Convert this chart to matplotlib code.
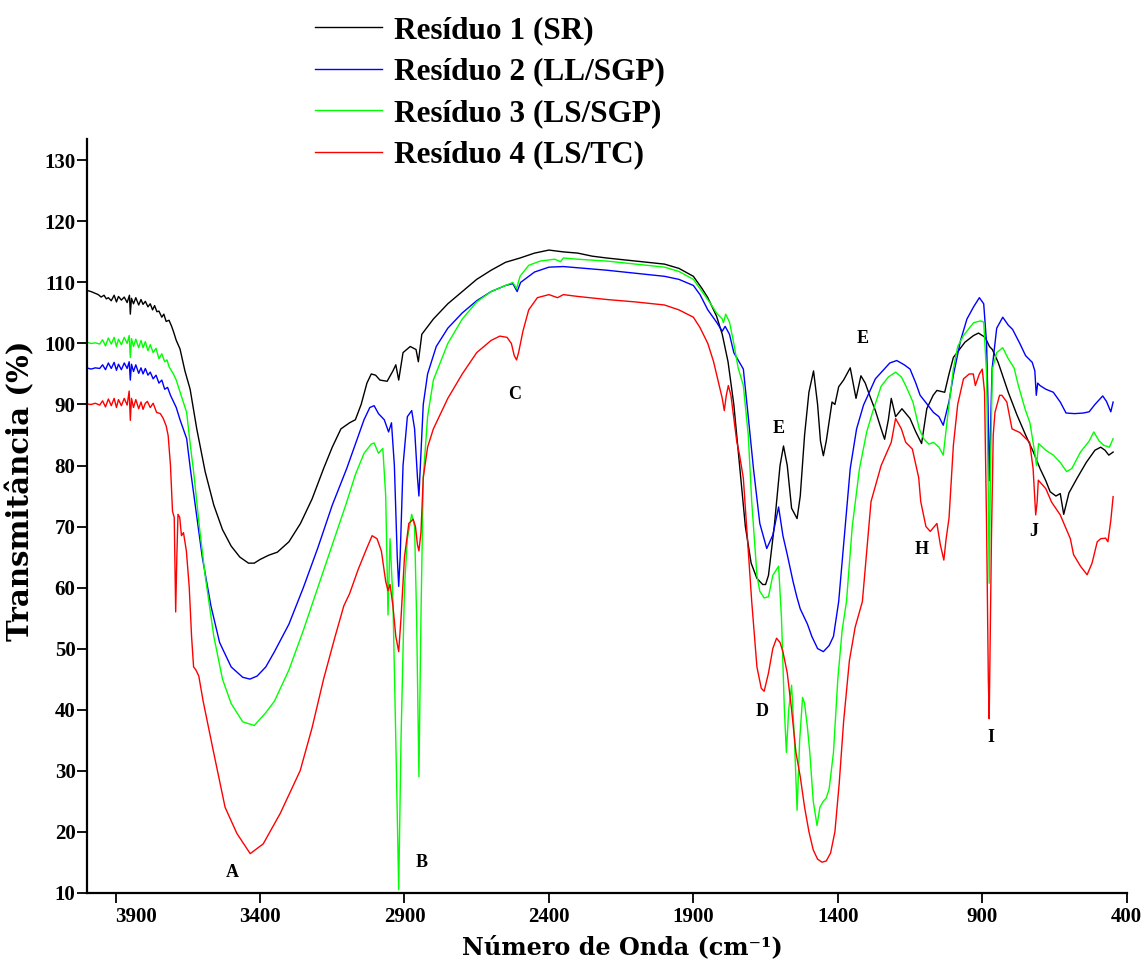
import numpy as np
import matplotlib
matplotlib.use("Agg")
import matplotlib.pyplot as plt

# ---------------- data ----------------
labels = ["Resíduo 1 (SR)", "Resíduo 2 (LL/SGP)", "Resíduo 3 (LS/SGP)", "Resíduo 4 (LS/TC)"]
colors = ["#000000", "#0000ff", "#00ff00", "#ff0000"]

wn_black = [4000, 3985, 3970, 3960, 3950, 3940, 3932, 3925, 3915, 3905, 3897, 3890, 3880, 3870, 3860, 3852, 3849, 3845,
            3838, 3830, 3820, 3812, 3805, 3797, 3788, 3780, 3772, 3765, 3757, 3750, 3740, 3733, 3725, 3715, 3706, 3700,
            3690, 3677, 3660, 3642, 3619, 3590, 3560, 3530, 3500, 3470, 3440, 3420, 3400, 3370, 3340, 3300, 3260, 3220,
            3180, 3150, 3120, 3090, 3070, 3050, 3030, 3015, 3000, 2985, 2960, 2940, 2930, 2920, 2905, 2880, 2860, 2852,
            2840, 2800, 2750, 2700, 2650, 2600, 2550, 2500, 2450, 2400, 2350, 2300, 2250, 2200, 2100, 2000, 1950, 1900,
            1870, 1850, 1820, 1800, 1780, 1760, 1740, 1720, 1700, 1680, 1660, 1650, 1640, 1620, 1600, 1588, 1575, 1560,
            1541, 1530, 1515, 1500, 1484, 1470, 1460, 1450, 1440, 1420, 1410, 1397, 1380, 1357, 1337, 1320, 1305, 1290,
            1270, 1250, 1238, 1225, 1215, 1200, 1178, 1150, 1130, 1110, 1092, 1070, 1057, 1030, 1015, 1000, 960, 930,
            913, 890, 875, 865, 845, 810, 780, 750, 723, 700, 680, 665, 645, 630, 618, 600, 572, 540, 510, 490, 475,
            462, 447]
tr_black = [108.7, 108.5, 108.2, 108.0, 107.6, 107.9, 107.3, 107.5, 107.0, 107.9, 106.8, 107.7, 107.1, 107.6, 106.7,
            107.9, 104.8, 107.4, 106.5, 107.5, 106.3, 107.2, 106.4, 106.9, 106.0, 106.5, 105.5, 106.2, 105.2, 105.3,
            104.3, 104.8, 103.6, 103.8, 102.8, 102.0, 100.5, 99.1, 95.5, 92.5, 86.0, 79.0, 73.5, 69.5, 66.8, 65.0, 64.0,
            64.0, 64.6, 65.3, 65.8, 67.5, 70.5, 74.5, 79.5, 83.0, 86.0, 87.0, 87.5, 90.0, 93.5, 95.0, 94.8, 94.0, 93.8,
            95.5, 96.5, 94.0, 98.5, 99.5, 99.0, 97.0, 101.5, 104.0, 106.5, 108.5, 110.5, 112.0, 113.3, 114.0, 114.8,
            115.3, 115.0, 114.8, 114.3, 114.0, 113.5, 113.0, 112.3, 111.0, 109.0, 107.5, 104.5, 101.5, 97.0, 90.0, 80.0,
            70.0, 64.0, 61.5, 60.5, 60.5, 62.0, 70.0, 80.0, 83.2, 80.0, 73.0, 71.3, 75.0, 85.0, 92.0, 95.5, 90.0, 84.0,
            81.6, 84.0, 90.4, 90.0, 92.9, 94.0, 96.0, 91.0, 94.7, 93.5, 91.5, 89.0, 86.0, 84.3, 87.5, 91.0, 88.0, 89.3,
            87.7, 85.5, 83.6, 89.3, 91.5, 92.3, 92.0, 95.0, 97.7, 100.2, 101.3, 101.7, 101.0, 99.5, 99.0, 96.9, 92.0,
            88.3, 85.0, 82.2, 79.5, 77.5, 75.7, 75.0, 75.4, 72.0, 75.5, 77.9, 80.5, 82.5, 83.0, 82.5, 81.7, 82.2]

wn_blue = [4000, 3985, 3970, 3955, 3945, 3935, 3925, 3915, 3905, 3897, 3890, 3880, 3870, 3860, 3853, 3849, 3845, 3838,
           3830, 3820, 3812, 3805, 3797, 3788, 3780, 3770, 3760, 3750, 3740, 3730, 3720, 3710, 3700, 3690, 3677, 3654,
           3640, 3620, 3600, 3570, 3540, 3500, 3460, 3435, 3410, 3380, 3350, 3300, 3250, 3200, 3150, 3100, 3070, 3040,
           3020, 3005, 2990, 2970, 2955, 2945, 2935, 2925, 2920, 2915, 2905, 2890, 2875, 2865, 2855, 2850, 2845, 2835,
           2820, 2790, 2750, 2700, 2650, 2600, 2550, 2525, 2510, 2498, 2450, 2400, 2350, 2300, 2200, 2100, 2000, 1950,
           1900, 1877, 1850, 1820, 1800, 1790, 1775, 1760, 1727, 1710, 1692, 1670, 1646, 1625, 1605, 1590, 1575, 1555,
           1542, 1530, 1520, 1505, 1490, 1470, 1450, 1430, 1415, 1397, 1380, 1357, 1335, 1311, 1270, 1220, 1196, 1170,
           1150, 1130, 1115, 1090, 1069, 1050, 1035, 1015, 1000, 975, 953, 930, 910, 895, 885, 880, 876, 872, 866, 850,
           829, 810, 795, 770, 750, 727, 718, 713, 708, 700, 680, 654, 630, 610, 580, 550, 530, 510, 483, 470, 455, 447]
tr_blue = [96.0, 95.8, 96.0, 95.9, 96.5, 95.7, 96.8, 95.9, 96.9, 95.6, 96.6, 95.7, 96.8, 95.9, 97.0, 94.0, 96.6, 95.4,
           96.5, 95.1, 96.0, 95.0, 95.9, 94.8, 95.3, 94.2, 94.8, 93.5, 94.0, 92.5, 92.8, 91.5, 90.5, 89.5, 87.5, 84.4,
           79.0, 72.0, 65.0, 57.0, 51.0, 47.0, 45.3, 45.0, 45.5, 47.0, 49.5, 54.0, 60.0, 66.5, 73.5, 79.5, 83.5, 87.5,
           89.5, 89.8, 88.5, 87.5, 85.5, 87.0, 80.0, 65.0, 60.2, 65.0, 80.0, 88.0, 89.0, 86.0, 78.0, 75.0, 80.0, 90.0,
           95.0, 99.5, 102.5, 105.0, 107.0, 108.5, 109.5, 109.8, 108.5, 110.0, 111.7, 112.5, 112.6, 112.4, 112.0,
           111.5, 111.0, 110.5, 109.5, 108.0, 105.5, 103.5, 102.0, 102.8, 101.5, 98.5, 95.8, 88.0, 79.5, 70.5, 66.4,
           68.6, 73.2, 68.5, 65.4, 61.0, 58.5, 56.5, 55.5, 54.0, 52.0, 50.0, 49.5, 50.5, 52.0, 57.7, 67.0, 79.5, 86.0,
           89.9, 94.2, 96.8, 97.2, 96.5, 95.8, 93.5, 91.5, 90.0, 88.7, 88.0, 86.6, 90.5, 94.8, 100.5, 104.0, 106.0,
           107.5, 106.5, 100.0, 90.0, 77.5, 85.0, 95.8, 102.5, 104.3, 103.0, 102.3, 100.0, 98.0, 96.9, 95.5, 91.5,
           93.5, 93.1, 92.5, 92.0, 90.4, 88.6, 88.5, 88.6, 88.8, 90.0, 91.4, 90.5, 88.8, 90.4]

wn_green = [4000, 3985, 3970, 3955, 3945, 3935, 3925, 3915, 3905, 3897, 3890, 3880, 3870, 3860, 3853, 3849, 3845, 3838,
            3830, 3820, 3812, 3805, 3797, 3788, 3780, 3770, 3760, 3750, 3740, 3730, 3722, 3715, 3700, 3690, 3680, 3654,
            3640, 3630, 3610, 3590, 3560, 3530, 3500, 3460, 3420, 3380, 3350, 3300, 3250, 3200, 3150, 3100, 3070, 3040,
            3015, 3005, 2990, 2975, 2965, 2957, 2950, 2940, 2930, 2920, 2912, 2900, 2890, 2875, 2865, 2858, 2850, 2843,
            2835, 2820, 2800, 2750, 2700, 2650, 2600, 2550, 2525, 2512, 2500, 2470, 2430, 2380, 2360, 2350, 2300, 2200,
            2100, 2000, 1950, 1900, 1870, 1840, 1820, 1800, 1796, 1788, 1775, 1760, 1745, 1727, 1710, 1698, 1680, 1670,
            1655, 1640, 1625, 1605, 1595, 1585, 1578, 1570, 1560, 1550, 1541, 1532, 1522, 1515, 1505, 1497, 1485, 1472,
            1462, 1450, 1440, 1430, 1415, 1400, 1385, 1370, 1350, 1325, 1300, 1280, 1250, 1225, 1200, 1180, 1165, 1140,
            1118, 1103, 1085, 1069, 1050, 1035, 1020, 1000, 985, 965, 930, 905, 895, 885, 879, 876, 872, 865, 850, 829,
            810, 790, 775, 752, 735, 718, 712, 705, 680, 654, 630, 608, 590, 560, 530, 514, 495, 479, 460, 447]
tr_green = [100.2, 100.0, 100.1, 99.9, 100.6, 99.6, 100.9, 99.9, 101.0, 99.5, 100.7, 99.8, 101.0, 100.0, 101.3, 97.7,
            100.8, 99.5, 100.7, 99.3, 100.5, 99.3, 100.3, 98.8, 99.8, 98.5, 99.2, 97.5, 98.3, 97.0, 97.3, 96.2, 95.0,
            94.0, 92.5, 88.7, 82.8, 79.0, 70.0, 62.0, 52.0, 45.0, 41.0, 38.0, 37.4, 39.5, 41.4, 46.5, 53.0, 60.0, 67.0,
            74.0, 78.5, 82.0, 83.5, 83.7, 82.0, 82.8, 75.0, 55.5, 68.0, 58.0, 35.0, 10.5, 35.0, 60.0, 68.0, 72.0, 70.0,
            55.0, 29.0, 55.0, 78.0, 88.0, 94.0, 100.0, 104.0, 106.8, 108.5, 109.5, 110.0, 109.0, 111.0, 112.8, 113.5,
            113.8, 113.4, 114.0, 113.8, 113.5, 113.0, 112.5, 111.8, 110.5, 108.5, 106.5, 105.0, 104.0, 103.4, 104.8,
            103.5, 100.0, 96.0, 93.1, 85.0, 74.1, 62.0, 59.4, 58.3, 58.5, 62.0, 63.5, 55.0, 40.0, 33.0, 40.0, 44.0,
            35.0, 23.5, 35.0, 42.0, 41.0, 37.0, 33.0, 25.0, 21.0, 24.0, 25.0, 25.5, 27.0, 33.0, 45.0, 53.0, 57.7, 70.0,
            79.5, 85.5, 88.7, 93.0, 94.5, 95.3, 94.5, 93.1, 90.4, 86.0, 84.4, 83.5, 83.8, 83.0, 81.7, 88.0, 95.8, 99.5,
            101.3, 103.4, 103.7, 103.5, 95.0, 75.0, 60.7, 78.0, 95.8, 98.5, 99.3, 97.5, 96.0, 93.1, 89.3, 87.0, 82.0,
            80.0, 83.6, 82.5, 81.7, 80.5, 79.0, 79.5, 82.2, 84.0, 85.5, 84.0, 83.3, 83.0, 84.4]

wn_red = [4000, 3985, 3970, 3955, 3945, 3935, 3925, 3915, 3905, 3897, 3890, 3880, 3870, 3860, 3853, 3849, 3845, 3838,
          3830, 3820, 3812, 3805, 3797, 3790, 3780, 3770, 3758, 3745, 3735, 3725, 3718, 3710, 3703, 3697, 3692, 3688,
          3684, 3678, 3672, 3665, 3655, 3645, 3637, 3630, 3622, 3612, 3597, 3562, 3521, 3480, 3434, 3389, 3330, 3261,
          3220, 3180, 3140, 3110, 3090, 3060, 3030, 3012, 2995, 2980, 2965, 2957, 2950, 2940, 2930, 2920, 2912, 2900,
          2885, 2870, 2862, 2855, 2850, 2843, 2835, 2820, 2800, 2750, 2700, 2650, 2600, 2570, 2545, 2530, 2520, 2512,
          2505, 2490, 2470, 2440, 2400, 2370, 2350, 2300, 2200, 2100, 2000, 1950, 1900, 1877, 1850, 1830, 1810, 1800,
          1793, 1786, 1779, 1770, 1750, 1740, 1727, 1710, 1698, 1680, 1665, 1655, 1640, 1625, 1612, 1600, 1590, 1575,
          1560, 1545, 1530, 1515, 1500, 1485, 1470, 1455, 1440, 1425, 1410, 1395, 1380, 1360, 1340, 1315, 1300, 1285,
          1250, 1215, 1200, 1180, 1165, 1142, 1120, 1113, 1095, 1080, 1057, 1045, 1033, 1025, 1015, 1000, 985, 965,
          945, 931, 924, 910, 900, 892, 885, 879, 876, 873, 868, 862, 856, 840, 832, 815, 797, 770, 736, 724, 715, 710,
          706, 680, 660, 630, 595, 584, 560, 537, 520, 502, 490, 473, 465, 455, 447]
tr_red = [90.1, 90.0, 90.2, 89.9, 90.6, 89.6, 90.9, 89.8, 91.0, 89.5, 90.8, 89.8, 91.0, 89.9, 92.2, 87.4, 91.0, 89.5,
          90.8, 89.3, 90.4, 89.2, 90.2, 90.5, 89.5, 90.2, 88.7, 88.5, 87.7, 86.5, 84.9, 80.0, 72.5, 71.5, 56.0, 65.0,
          72.0, 71.5, 68.5, 69.0, 66.0, 60.0, 52.0, 47.0, 46.5, 45.5, 41.4, 33.3, 24.0, 19.7, 16.4, 18.0, 23.0, 30.0,
          37.0, 45.0, 52.0, 57.0, 59.0, 63.0, 66.5, 68.5, 68.0, 66.0, 61.0, 59.5, 60.5, 57.0, 52.0, 49.5, 55.0, 65.0,
          70.5, 71.2, 70.0, 67.0, 66.0, 69.0, 78.0, 83.0, 86.0, 91.0, 95.0, 98.5, 100.5, 101.2, 101.0, 100.0, 98.0,
          97.3, 98.5, 102.0, 105.5, 107.5, 108.0, 107.5, 108.0, 107.7, 107.2, 106.8, 106.3, 105.5, 104.3, 102.6, 100.0,
          97.0, 93.0, 91.0, 89.0, 91.5, 93.1, 91.5, 84.0, 81.7, 77.9, 66.0, 57.7, 47.0, 43.5, 43.0, 46.0, 50.0, 51.7,
          51.0, 49.5, 46.0, 40.0, 33.0, 29.0, 24.0, 20.0, 17.0, 15.5, 15.0, 15.2, 16.5, 20.0, 28.0, 38.0, 48.0, 53.5,
          57.7, 66.0, 74.1, 80.0, 83.8, 87.7, 86.0, 83.8, 82.7, 78.0, 74.1, 70.0, 69.2, 70.5, 67.0, 64.5, 68.0, 71.4,
          83.3, 90.0, 94.2, 95.0, 95.0, 93.1, 95.0, 95.8, 92.0, 70.0, 45.0, 38.5, 50.0, 68.6, 85.0, 88.7, 91.5, 91.5,
          90.4, 86.0, 85.4, 83.8, 79.5, 71.9, 74.0, 77.6, 76.2, 74.0, 71.9, 68.0, 65.4, 63.5, 62.1, 64.0, 67.5, 68.0,
          68.1, 67.5, 71.0, 74.9]

band_letters = ["A", "B", "C", "D", "E", "E", "H", "I", "J"]
band_wn = [3496, 2839, 2520, 1662, 1605, 1313, 1109, 869, 722]
band_tr = [13.3, 15.0, 91.7, 39.7, 86.0, 100.8, 66.2, 35.4, 69.2]

x_ticks = [3900, 3400, 2900, 2400, 1900, 1400, 900, 400]
y_ticks = list(range(10, 131, 10))

# ---------------- style ----------------
plt.rcParams["font.family"] = ["Liberation Serif", "DejaVu Serif"]
plt.rcParams["font.weight"] = "bold"

fig = plt.figure(figsize=(11.41, 9.72), dpi=100)
ax = fig.add_axes([86.7 / 1141, 1 - 892.7 / 972, (1126.7 - 86.7) / 1141, (892.7 - 139) / 972])

series = [(wn_black, tr_black), (wn_blue, tr_blue), (wn_green, tr_green), (wn_red, tr_red)]
for (wn, tr), c, lab in zip(series, colors, labels):
    ax.plot(wn, tr, color=c, lw=1.0, label=lab)

ax.set_xlim(4000, 400)
ax.set_ylim(10, 133.5)
ax.set_xticks(x_ticks)
ax.set_yticks(y_ticks)
ax.tick_params(axis="both", direction="out", length=7, width=1.3, labelsize=15)
ax.tick_params(axis="y", pad=1)
ax.tick_params(axis="x", pad=3)
for lab in ax.get_xticklabels() + ax.get_yticklabels():
    lab.set_fontweight("bold")
ax.get_xticklabels()[0].set_horizontalalignment("left")
ax.spines["top"].set_visible(False)
ax.spines["right"].set_visible(False)
ax.spines["left"].set_linewidth(1.6)
ax.spines["bottom"].set_linewidth(1.6)

ax.set_xlabel("Número de Onda (cm⁻¹)", fontsize=17.2, fontweight="bold", family=["DejaVu Serif"])
ax.xaxis.set_label_coords(0.5146, -0.056)
ax.set_ylabel("Transmitância (%)", fontsize=21, fontweight="bold", family=["DejaVu Serif"])
ax.yaxis.set_label_coords(-0.049, 0.533)

for t, w, v in zip(band_letters, band_wn, band_tr):
    ax.text(w, v, t, fontsize=13, fontweight="bold", ha="center", va="center")

leg = fig.legend(loc="upper left", bbox_to_anchor=(315 / 1141, 1 - 16 / 972), frameon=False,
                 fontsize=22.5, handlelength=2.15, handletextpad=0.38, labelspacing=0.40,
                 borderpad=0, borderaxespad=0)
for t in leg.get_texts():
    t.set_fontweight("bold")

fig.savefig("out.png", dpi=100)
